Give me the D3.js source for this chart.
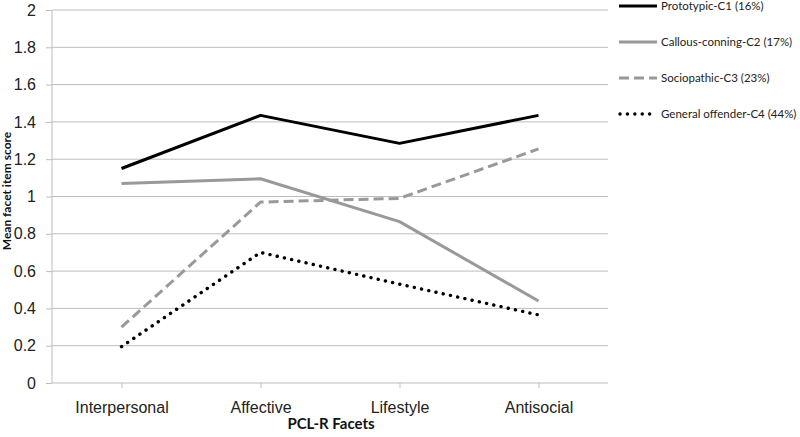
<!DOCTYPE html>
<html><head><meta charset="utf-8">
<script src="https://cdn.jsdelivr.net/npm/d3@7"></script>
<style>body{margin:0;background:#fff}svg{display:block;font-family:Lato,"Liberation Sans",sans-serif}</style>
</head><body><svg id="c" width="800" height="437"></svg>
<script>
const categories = ["Interpersonal","Affective","Lifestyle","Antisocial"];
const seriesNames = ["Prototypic-C1 (16%)","Callous-conning-C2 (17%)","Sociopathic-C3 (23%)","General offender-C4 (44%)"];
const c1 = [1.15, 1.435, 1.285, 1.435];
const c2 = [1.07, 1.095, 0.865, 0.44];
const c3 = [0.30, 0.97, 0.99, 1.255];
const c4 = [0.195, 0.70, 0.53, 0.365];
const yTicks = [0,0.2,0.4,0.6,0.8,1,1.2,1.4,1.6,1.8,2];
const series = [c1,c2,c3,c4];
const styles = [
  {color:"#000", dash:null, cap:"butt", w:3},
  {color:"#999", dash:null, cap:"butt", w:3},
  {color:"#999", dash:"10,5", cap:"butt", w:3},
  {color:"#000", dash:"0.1,7.3", cap:"round", w:3.4}
];
const svg = d3.select("#c");
const x0=52, x1=608, yTop=10, yBot=383;
const x = d3.scalePoint().domain(categories).range([x0,x1]).padding(0.5);
const y = d3.scaleLinear().domain([0,2]).range([yBot,yTop]);
// grid
svg.append("g").selectAll("line").data(yTicks.filter(d=>d>0)).join("line")
  .attr("x1",x0).attr("x2",x1).attr("y1",d=>y(d)).attr("y2",d=>y(d))
  .attr("stroke","#bdbdbd").attr("stroke-width",1);
// y axis
const ya = svg.append("g").attr("transform",`translate(${x0},0)`)
  .call(d3.axisLeft(y).tickValues(yTicks).tickSize(6).tickPadding(10).tickFormat(d=>String(d)));
ya.select(".domain").attr("stroke","#bdbdbd").attr("d",`M0,${yTop}V${yBot}`);
ya.selectAll(".tick line").attr("stroke","#bdbdbd");
ya.selectAll("text").attr("font-size",16).attr("fill","#222");
// x axis
const xa = svg.append("g").attr("transform",`translate(0,${yBot})`)
  .call(d3.axisBottom(x).tickSize(5).tickPadding(14));
xa.select(".domain").attr("stroke","#bdbdbd").attr("d",`M${x0},0H${x1}`);
xa.selectAll(".tick line").attr("stroke","#bdbdbd");
xa.selectAll("text").attr("font-size",16).attr("fill","#222");
// titles
svg.append("text").attr("x",331).attr("y",429).attr("text-anchor","middle")
  .attr("font-size",15).attr("font-weight","bold").attr("fill","#111").text("PCL-R Facets");
svg.append("text").attr("transform","translate(11,191) rotate(-90)").attr("text-anchor","middle")
  .attr("font-size",12).attr("font-weight","bold").attr("fill","#111").text("Mean facet item score");
// lines
const line = d3.line().x((d,i)=>x(categories[i])).y(d=>y(d));
series.forEach((s,k)=>{
  const st=styles[k];
  svg.append("path").attr("d",line(s)).attr("fill","none").attr("stroke",st.color)
    .attr("stroke-width",st.w).attr("stroke-dasharray",st.dash).attr("stroke-linecap",st.cap)
    .attr("stroke-linejoin","round");
});
// legend
const ly=[6,42,78,114];
seriesNames.forEach((n,k)=>{
  const st=styles[k];
  svg.append("line").attr("x1",k==3?620:619).attr("x2",657).attr("y1",ly[k]).attr("y2",ly[k])
    .attr("stroke",st.color).attr("stroke-width",st.w).attr("stroke-dasharray",st.dash).attr("stroke-linecap",st.cap);
  svg.append("text").attr("x",661).attr("y",ly[k]).attr("dy","0.35em").attr("font-size",11.5).attr("fill","#222").text(n);
});
</script></body></html>
